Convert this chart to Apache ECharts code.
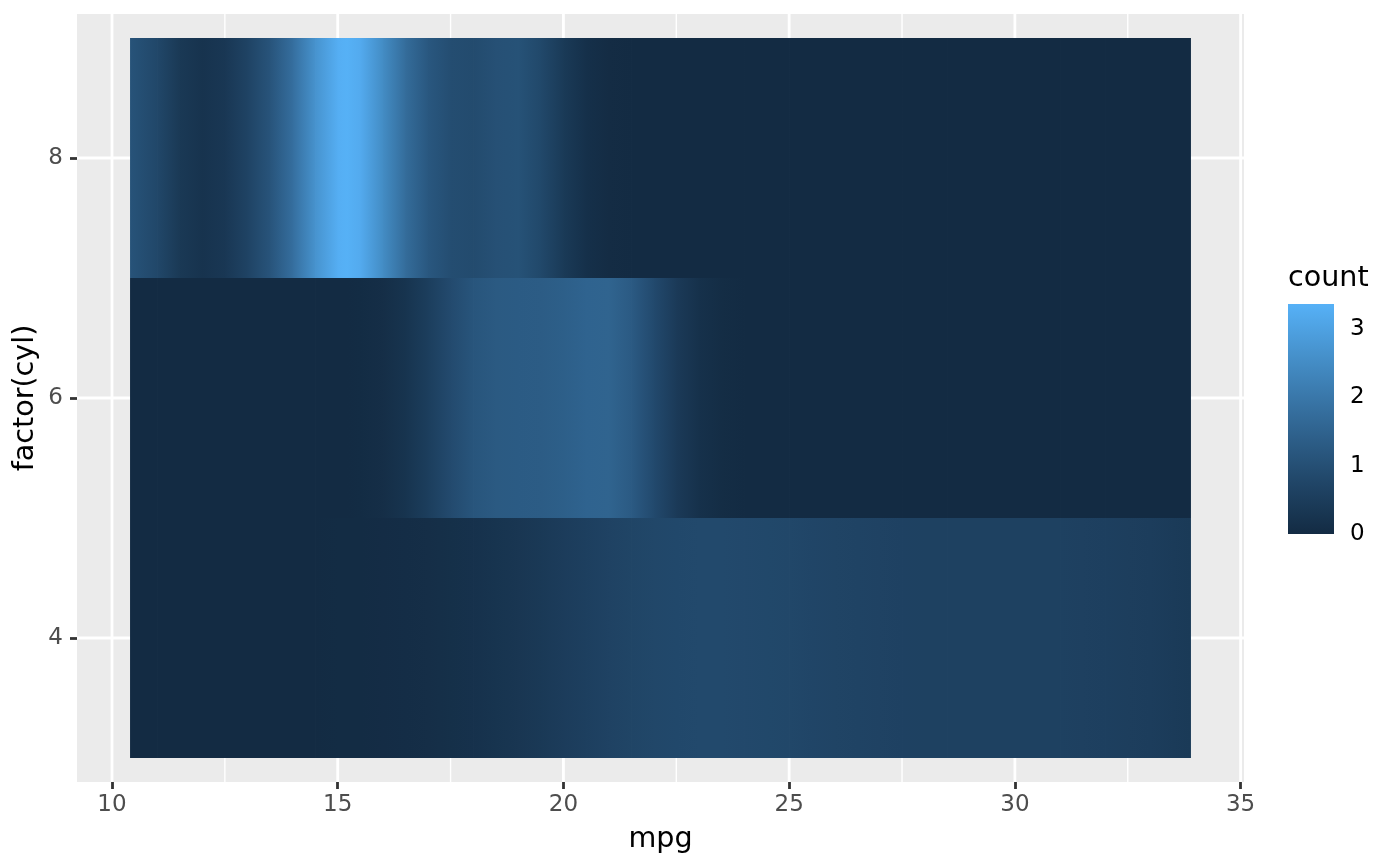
<!DOCTYPE html>
<html>
<head>
<meta charset="utf-8">
<script src="https://cdn.jsdelivr.net/npm/echarts@6/dist/echarts.min.js"></script>
<style>html,body{margin:0;padding:0;background:#ffffff}#c{width:1400px;height:866px}</style>
</head>
<body>
<div id="c"></div>
<script>
// ---- data ----
const mpg = [10.4, 11, 11.5, 12, 12.5, 13, 13.5, 14, 14.5, 15, 15.2, 15.5, 16, 16.5, 17, 17.5, 18, 18.5, 19, 19.5, 20, 20.5, 21, 21.5, 22, 22.5, 23, 23.5, 24, 24.5, 25, 25.5, 26, 26.5, 27, 27.5, 28, 28.5, 29, 29.5, 30, 30.5, 31, 31.5, 32, 32.5, 33, 33.5, 33.9];
const cylLevels = ['4', '6', '8'];
const count4 = [0, 0, 0.0001, 0.0003, 0.0006, 0.0013, 0.0025, 0.0046, 0.008, 0.0145, 0.018, 0.024, 0.039, 0.060, 0.091, 0.131, 0.182, 0.245, 0.318, 0.400, 0.485, 0.571, 0.651, 0.721, 0.776, 0.814, 0.834, 0.837, 0.826, 0.803, 0.773, 0.740, 0.706, 0.676, 0.650, 0.631, 0.619, 0.613, 0.612, 0.613, 0.615, 0.614, 0.609, 0.596, 0.574, 0.544, 0.505, 0.459, 0.418];
const count6 = [0, 0, 0, 0, 0, 0, 0, 0, 0.0006, 0.004, 0.008, 0.022, 0.085, 0.247, 0.533, 0.875, 1.141, 1.264, 1.299, 1.325, 1.396, 1.505, 1.520, 1.288, 0.853, 0.427, 0.160, 0.044, 0.009, 0.0014, 0.0002, 0, 0, 0, 0, 0, 0, 0, 0, 0, 0, 0, 0, 0, 0, 0, 0, 0, 0];
const count8 = [1.09, 0.78, 0.38, 0.22, 0.35, 0.68, 1.13, 1.79, 2.66, 3.30, 3.36, 3.21, 2.50, 1.73, 1.21, 0.94, 0.89, 1.02, 1.06, 0.81, 0.41, 0.14, 0.03, 0.004, 0, 0, 0, 0, 0, 0, 0, 0, 0, 0, 0, 0, 0, 0, 0, 0, 0, 0, 0, 0, 0, 0, 0, 0, 0];
const countMin = 0;
const countMax = 3.37;
const xTicks = [10, 15, 20, 25, 30, 35];
const xMinorTicks = [12.5, 17.5, 22.5, 27.5, 32.5];
const yTicks = [1, 2, 3];
const legendTicks = [0, 1, 2, 3];

// ---- styling ----
const FONT = 'DejaVu Sans';
const fillStops = ['#132B43', '#22496C', '#336A98', '#448DC6', '#56B1F7'];

function hexToRgb(h) {
  return [parseInt(h.slice(1, 3), 16), parseInt(h.slice(3, 5), 16), parseInt(h.slice(5, 7), 16)];
}
const stopRgb = fillStops.map(hexToRgb);
function colorOf(v) {
  let t = (v - countMin) / (countMax - countMin);
  t = Math.max(0, Math.min(1, t));
  const p = t * (stopRgb.length - 1);
  const i = Math.min(Math.floor(p), stopRgb.length - 2);
  const f = p - i;
  const a = stopRgb[i], b = stopRgb[i + 1];
  return 'rgb(' + [0, 1, 2].map(k => Math.round(a[k] + (b[k] - a[k]) * f)).join(',') + ')';
}

const rows = [count4, count6, count8];
const tileData = [];
rows.forEach((vals, r) => {
  for (let i = 0; i < mpg.length - 1; i++) {
    tileData.push([mpg[i], mpg[i + 1], r + 1, vals[i], vals[i + 1], i === mpg.length - 2 ? 1 : 0]);
  }
});

const gridData = [];
xTicks.forEach(v => gridData.push([0, v, 2.8]));
xMinorTicks.forEach(v => gridData.push([0, v, 1.4]));
yTicks.forEach(v => gridData.push([1, v, 2.8]));

const chart = echarts.init(document.getElementById('c'), null, { renderer: 'canvas', width: 1400, height: 866 });

const option = {
  animation: false,
  backgroundColor: '#ffffff',
  textStyle: { fontFamily: FONT },
  grid: [
    { left: 77, top: 14, width: 1167, height: 768, show: true, backgroundColor: '#EBEBEB', borderWidth: 0 },
    { left: 1288, top: 304, width: 46, height: 230, show: false }
  ],
  xAxis: [
    {
      gridIndex: 0, type: 'value', min: 9.225, max: 35.075,
      axisLine: { show: false },
      axisTick: { show: true, customValues: xTicks, length: 7, lineStyle: { color: '#333333', width: 2.8 } },
      axisLabel: { customValues: xTicks, color: '#4D4D4D', fontSize: 23, fontFamily: FONT, margin: 12 },
      splitLine: { show: false },
      name: 'mpg', nameLocation: 'middle', nameGap: 43,
      nameTextStyle: { fontSize: 28.6, color: '#000000', fontFamily: FONT }
    },
    { gridIndex: 1, type: 'value', min: 0, max: 1, show: false }
  ],
  yAxis: [
    {
      gridIndex: 0, type: 'value', min: 0.4, max: 3.6,
      axisLine: { show: false },
      axisTick: { show: true, customValues: yTicks, length: 7, lineStyle: { color: '#333333', width: 2.8 } },
      axisLabel: { customValues: yTicks, formatter: v => cylLevels[Math.round(v) - 1], color: '#4D4D4D', fontSize: 23, fontFamily: FONT, margin: 14 },
      splitLine: { show: false },
      name: 'factor(cyl)', nameLocation: 'middle', nameGap: 37, nameRotate: 90, nameMoveOverlap: false,
      nameTextStyle: { fontSize: 28.6, color: '#000000', fontFamily: FONT }
    },
    {
      gridIndex: 1, type: 'value', min: countMin, max: countMax, position: 'right',
      axisLine: { show: false },
      axisTick: { show: true, inside: true, customValues: legendTicks, length: 9, lineStyle: { color: '#ffffff', width: 1.3 } },
      axisLabel: { customValues: legendTicks, color: '#000000', fontSize: 23, fontFamily: FONT, margin: 16 },
      splitLine: { show: false }
    },
    {
      gridIndex: 1, type: 'value', min: countMin, max: countMax, position: 'left',
      axisLine: { show: false },
      axisTick: { show: true, inside: true, customValues: legendTicks, length: 9, lineStyle: { color: '#ffffff', width: 1.3 } },
      axisLabel: { show: false },
      splitLine: { show: false }
    }
  ],
  graphic: [
    { type: 'text', left: 1288, top: 264, style: { text: 'count', fontSize: 28.6, fontFamily: FONT, fill: '#000000' } }
  ],
  series: [
    {
      type: 'custom', name: 'grid', xAxisIndex: 0, yAxisIndex: 0, z: 1, silent: true,
      data: gridData,
      encode: { x: 1, y: 1 },
      renderItem: function (params, api) {
        const o = api.value(0), v = api.value(1), w = api.value(2);
        const cs = params.coordSys;
        if (o === 0) {
          const x = api.coord([v, 2])[0];
          return { type: 'line', shape: { x1: x, y1: cs.y, x2: x, y2: cs.y + cs.height }, style: { stroke: '#ffffff', lineWidth: w } };
        }
        const y = api.coord([20, v])[1];
        return { type: 'line', shape: { x1: cs.x, y1: y, x2: cs.x + cs.width, y2: y }, style: { stroke: '#ffffff', lineWidth: w } };
      }
    },
    {
      type: 'custom', name: 'density', xAxisIndex: 0, yAxisIndex: 0, z: 2, silent: true,
      data: tileData,
      encode: { x: [0, 1], y: 2 },
      renderItem: function (params, api) {
        const x0 = api.value(0), x1 = api.value(1), r = api.value(2);
        const v0 = api.value(3), v1 = api.value(4), last = api.value(5);
        const p0 = api.coord([x0, r + 0.5]);
        const p1 = api.coord([x1, r - 0.5]);
        const w = p1[0] - p0[0] + (last ? 0 : 0.8);
        return {
          type: 'rect',
          shape: { x: p0[0], y: p0[1], width: w, height: p1[1] - p0[1] },
          style: {
            fill: { type: 'linear', x: 0, y: 0, x2: 1, y2: 0, global: false,
              colorStops: [{ offset: 0, color: colorOf(v0) }, { offset: 1, color: colorOf(v1) }] }
          }
        };
      }
    },
    {
      type: 'custom', name: 'colorbar', xAxisIndex: 1, yAxisIndex: 1, z: 2, silent: true,
      data: [[0, 1, countMin, countMax]],
      encode: { x: [0, 1], y: [2, 3] },
      renderItem: function (params, api) {
        const pTop = api.coord([api.value(0), api.value(3)]);
        const pBot = api.coord([api.value(1), api.value(2)]);
        return {
          type: 'rect',
          shape: { x: pTop[0], y: pTop[1], width: pBot[0] - pTop[0], height: pBot[1] - pTop[1] },
          style: {
            fill: { type: 'linear', x: 0, y: 1, x2: 0, y2: 0, global: false,
              colorStops: fillStops.map((c, i) => ({ offset: i / (fillStops.length - 1), color: c })) }
          }
        };
      }
    }
  ]
};
chart.setOption(option);
</script>
</body>
</html>
